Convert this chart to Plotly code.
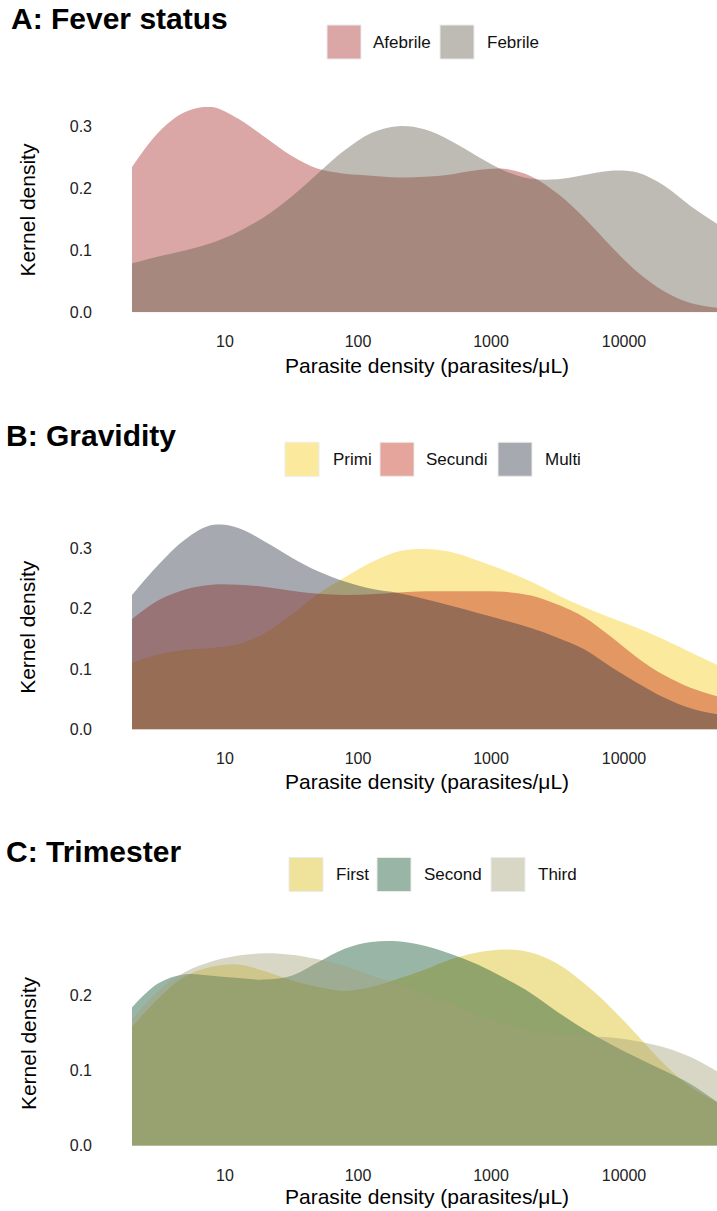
import plotly.graph_objects as go

# ---------------- data ----------------
# shared grid of parasite densities (parasites/uL), log-spaced positions
density_grid = [2, 3.16, 5.01, 7.94, 12.6, 20.0, 31.6, 50.1, 79.4, 126, 200, 316, 501, 794,
                1259, 1995, 3162, 5012, 7943, 12589, 19953, 31623, 50000]

# Panel A: Fever status
afebrile = [0.235, 0.291, 0.324, 0.332, 0.313, 0.283, 0.253, 0.232, 0.224, 0.221, 0.218, 0.219,
            0.223, 0.230, 0.232, 0.220, 0.192, 0.153, 0.107, 0.065, 0.034, 0.015, 0.007]
febrile = [0.079, 0.090, 0.100, 0.112, 0.130, 0.155, 0.187, 0.225, 0.262, 0.290, 0.301, 0.296,
           0.277, 0.252, 0.229, 0.216, 0.215, 0.222, 0.229, 0.226, 0.205, 0.172, 0.143]

# Panel B: Gravidity
primi = [0.110, 0.124, 0.132, 0.135, 0.141, 0.160, 0.190, 0.225, 0.252, 0.277, 0.295, 0.299,
         0.294, 0.280, 0.264, 0.245, 0.223, 0.203, 0.185, 0.168, 0.149, 0.128, 0.107]
secundi = [0.183, 0.214, 0.232, 0.240, 0.240, 0.236, 0.230, 0.225, 0.223, 0.224, 0.227, 0.229,
           0.229, 0.229, 0.228, 0.222, 0.207, 0.186, 0.154, 0.119, 0.090, 0.069, 0.055]
multi = [0.223, 0.273, 0.315, 0.339, 0.334, 0.311, 0.285, 0.262, 0.245, 0.233, 0.226, 0.216,
         0.205, 0.193, 0.181, 0.168, 0.152, 0.133, 0.104, 0.077, 0.053, 0.035, 0.025]

# Panel C: Trimester
first = [0.158, 0.196, 0.225, 0.238, 0.241, 0.232, 0.220, 0.211, 0.206, 0.211, 0.222, 0.234,
         0.248, 0.257, 0.261, 0.257, 0.242, 0.216, 0.184, 0.147, 0.109, 0.078, 0.058]
second = [0.184, 0.216, 0.228, 0.226, 0.223, 0.221, 0.226, 0.244, 0.262, 0.271, 0.272, 0.266,
          0.255, 0.241, 0.223, 0.203, 0.178, 0.155, 0.135, 0.117, 0.100, 0.082, 0.058]
third = [0.168, 0.206, 0.231, 0.245, 0.253, 0.256, 0.254, 0.248, 0.239, 0.226, 0.215, 0.203,
         0.190, 0.175, 0.162, 0.154, 0.149, 0.146, 0.144, 0.139, 0.131, 0.118, 0.099]

x_tick_vals = [10, 100, 1000, 10000]
x_tick_text = ["10", "100", "1000", "10000"]
y_tick_vals_ab = [0.0, 0.1, 0.2, 0.3]
y_tick_text_ab = ["0.0", "0.1", "0.2", "0.3"]
y_tick_vals_c = [0.0, 0.1, 0.2]
y_tick_text_c = ["0.0", "0.1", "0.2"]

panel_titles = ["A: Fever status", "B: Gravidity", "C: Trimester"]
x_title = "Parasite density (parasites/\u03bcL)"
y_title = "Kernel density"

# ---------------- style ----------------
W, H = 717, 1221
KY = 1.008  # vertical correction observed between layout pixels and the captured picture
FONT = "Liberation Sans, Arial, sans-serif"
ALPHA = 0.42
colors = {
    "Afebrile": (167, 45, 43), "Febrile": (98, 93, 74),
    "Primi": (245, 205, 25), "Secundi": (192, 38, 18), "Multi": (46, 49, 70),
    "First": (217, 186, 14), "Second": (13, 78, 42), "Third": (163, 160, 120),
}


def rgba(name, a=ALPHA):
    r, g, b = colors[name]
    return f"rgba({r},{g},{b},{a})"


def py(p):  # picture row -> paper y
    return 1 - p * KY / H


def px(p):  # picture column -> paper x
    return p / W


panels = [
    dict(series=[("Afebrile", afebrile), ("Febrile", febrile)], top=107, bottom=312, ymax=0.332,
         yt=(y_tick_vals_ab, y_tick_text_ab), title_x=9, title_y=18, leg_y=(25, 59),
         leg=[(327, 371), (440, 485)], xtitle_y=365),
    dict(series=[("Primi", primi), ("Secundi", secundi), ("Multi", multi)], top=524, bottom=729,
         ymax=0.340, yt=(y_tick_vals_ab, y_tick_text_ab), title_x=4, title_y=435,
         leg_y=(442, 476), leg=[(285, 331), (380, 424), (498, 543)], xtitle_y=781),
    dict(series=[("First", first), ("Second", second), ("Third", third)], top=940, bottom=1145,
         ymax=0.273, yt=(y_tick_vals_c, y_tick_text_c), title_x=4, title_y=851,
         leg_y=(857, 891), leg=[(289, 334), (377, 422), (491, 536)], xtitle_y=1196),
]

fig = go.Figure()
annotations = []
shapes = []
layout_axes = {}

for i, p in enumerate(panels):
    n = "" if i == 0 else str(i + 1)
    xa, ya = "x" + n, "y" + n
    for name, vals in p["series"]:
        fig.add_trace(go.Scatter(
            x=density_grid, y=vals, xaxis=xa, yaxis=ya, mode="lines",
            line=dict(width=0, shape="spline", smoothing=1.0), fill="tozeroy",
            fillcolor=rgba(name), name=name, showlegend=False, hoverinfo="x+y+name"))
    layout_axes["xaxis" + n] = dict(
        type="log", range=[0.30103, 4.69897], domain=[px(132), 1], anchor=ya,
        showgrid=False, zeroline=False, showline=False, ticks="",
        tickvals=x_tick_vals, ticktext=x_tick_text, ticklabelstandoff=18,
        tickfont=dict(family=FONT, size=16, color="#222222"))
    layout_axes["yaxis" + n] = dict(
        range=[0, p["ymax"]], domain=[py(p["bottom"]), py(p["top"])], anchor=xa,
        showgrid=False, zeroline=False, showline=False, ticks="",
        tickvals=p["yt"][0], ticktext=p["yt"][1], ticklabelstandoff=39,
        tickfont=dict(family=FONT, size=16, color="#222222"))
    # panel title
    annotations.append(dict(text="<b>" + panel_titles[i] + "</b>", x=px(p["title_x"]),
                            y=py(p["title_y"]), xref="paper", yref="paper", xanchor="left",
                            yanchor="middle", showarrow=False,
                            font=dict(family=FONT, size=30, color="#000000")))
    # axis titles
    annotations.append(dict(text=x_title, x=px(427), y=py(p["xtitle_y"]), xref="paper",
                            yref="paper", xanchor="center", yanchor="middle", showarrow=False,
                            font=dict(family=FONT, size=21, color="#000000")))
    annotations.append(dict(text=y_title, x=px(28), y=py((p["top"] + p["bottom"]) / 2),
                            xref="paper", yref="paper", xanchor="center", yanchor="middle",
                            textangle=-90, showarrow=False,
                            font=dict(family=FONT, size=21, color="#000000")))
    # legend
    y0, y1 = p["leg_y"]
    for (name, _), (sx, tx) in zip(p["series"], p["leg"]):
        shapes.append(dict(type="rect", xref="paper", yref="paper", x0=px(sx), x1=px(sx + 34),
                           y0=py(y1), y1=py(y0), fillcolor=rgba(name),
                           line=dict(width=1, color="rgba(235,235,235,1)")))
        annotations.append(dict(text=name, x=px(tx), y=py((y0 + y1) / 2), xref="paper",
                                yref="paper", xanchor="left", yanchor="middle", showarrow=False,
                                font=dict(family=FONT, size=17, color="#111111")))

fig.update_layout(
    width=W, height=H, margin=dict(l=0, r=0, t=0, b=0),
    paper_bgcolor="white", plot_bgcolor="white", showlegend=False,
    annotations=annotations, shapes=shapes, **layout_axes)

# remove the browser's default page margin so the figure sits at the window's top-left corner
fig.write_html(
    "out.html",
    config={"displayModeBar": False},
    post_script="document.documentElement.style.margin='0';document.body.style.margin='0';"
                "document.body.style.overflow='hidden';")
